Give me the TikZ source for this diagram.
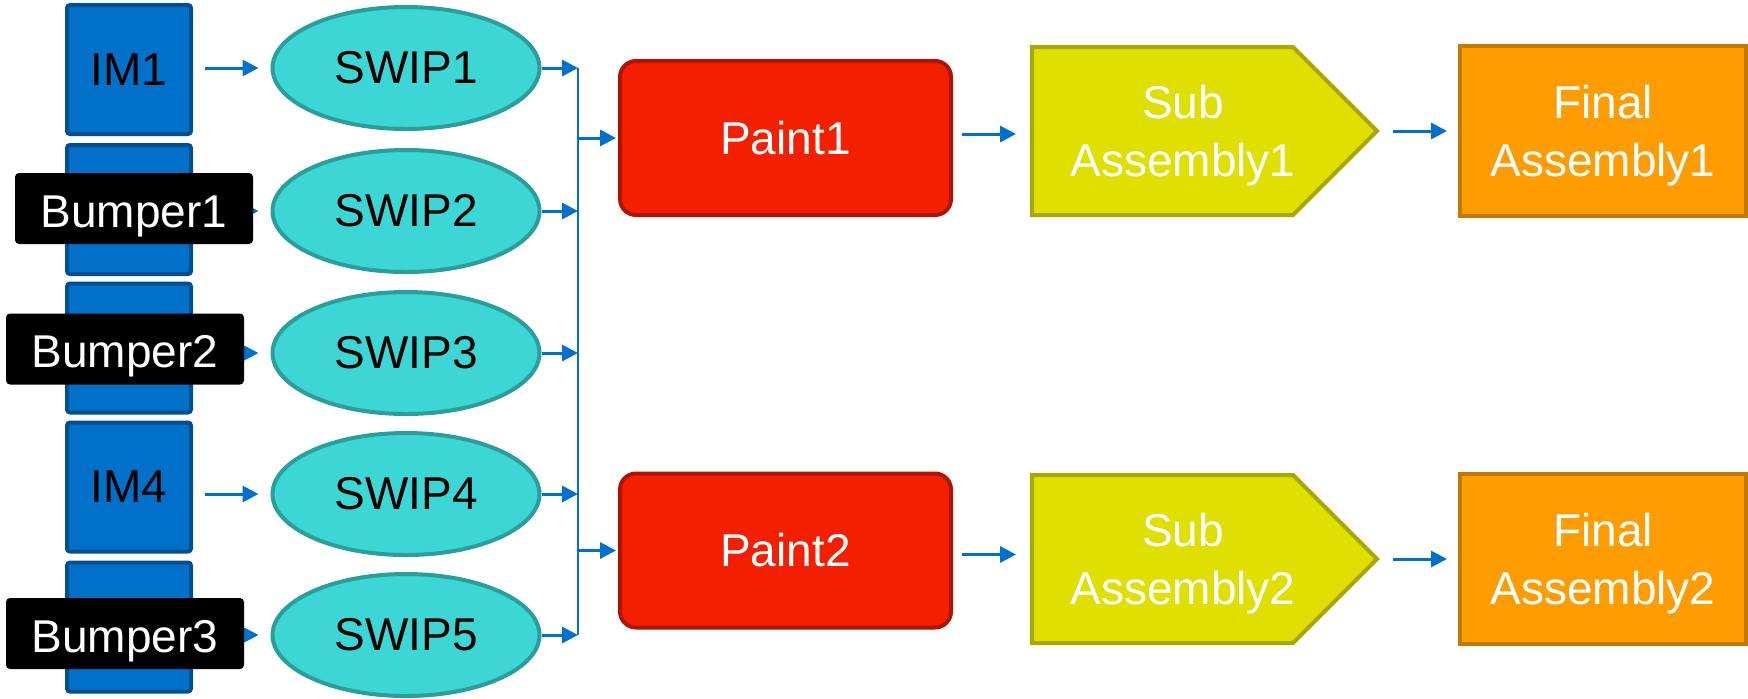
\documentclass[tikz,border=0pt]{standalone}
\usepackage{fontspec}
\setmainfont{Liberation Sans}
\usetikzlibrary{arrows.meta,calc,shapes.geometric}
\definecolor{imfill}{HTML}{0070C8}
\definecolor{imdraw}{HTML}{00508F}
\definecolor{swfill}{HTML}{3CD6D4}
\definecolor{swdraw}{HTML}{2A9E9A}
\definecolor{pfill}{HTML}{F41E00}
\definecolor{pdraw}{HTML}{B01400}
\definecolor{sfill}{HTML}{DFDF00}
\definecolor{sdraw}{HTML}{A8A800}
\definecolor{ffill}{HTML}{FF9C00}
\definecolor{fdraw}{HTML}{C47800}
\definecolor{arrblue}{HTML}{0070D0}
\begin{document}
\begin{tikzpicture}[x=0.5pt,y=-0.5pt,
  txt/.style={font=\fontsize{23}{29}\selectfont, align=center},
  imbox/.style={rectangle, rounded corners=1.5pt, fill=imfill, draw=imdraw, line width=2pt, minimum width=62pt, minimum height=64.5pt, txt, inner sep=0pt},
  bumper/.style={rectangle, rounded corners=2pt, fill=black, text=white, minimum width=119pt, minimum height=35.5pt, txt, inner sep=0pt, text height=18.5pt, text depth=0pt},
  swip/.style={ellipse, fill=swfill, draw=swdraw, line width=2pt, minimum width=133.5pt, minimum height=61pt, txt, inner sep=0pt},
  paint/.style={rectangle, rounded corners=8pt, fill=pfill, draw=pdraw, line width=2pt, minimum width=165.5pt, minimum height=77pt, txt, text=white},
  subsh/.style={fill=sfill, draw=sdraw, line width=2pt, line join=miter},
  subtxt/.style={txt, text=white, text depth=0pt},
  final/.style={rectangle, fill=ffill, draw=fdraw, line width=2pt, minimum width=143pt, minimum height=85pt, txt, text=white, text depth=0pt},
  arr/.style={draw=arrblue, line width=1.5pt, -{Triangle[length=8pt,width=8pt]}},
  bus/.style={draw=arrblue, line width=1.25pt}
]
\useasboundingbox (0,0) rectangle (1748,698);

% IM boxes
\node[imbox] (im1) at (129,69.5) {IM1};
\node[imbox] (im2) at (129,209.5) {};
\node[imbox] (im3) at (129,348) {};
\node[imbox] (im4) at (129,487) {IM4};
\node[imbox] (im5) at (129,627) {};

% SWIP ellipses
\node[swip] (swip1) at (406,68) {SWIP1};
\node[swip] (swip2) at (406,211) {SWIP2};
\node[swip] (swip3) at (406,353) {SWIP3};
\node[swip] (swip4) at (406,494) {SWIP4};
\node[swip] (swip5) at (406,635) {SWIP5};

% arrows IM -> SWIP
\foreach \i in {1,...,5}{
  \draw[arr, shorten <=6pt, shorten >=6pt] (im\i.east |- swip\i.west) -- (swip\i.west);
}

% Bumper labels (on top)
\node[bumper] (bumper1) at (134,208.5) {Bumper1};
\node[bumper] (bumper2) at (125,349) {Bumper2};
\node[bumper] (bumper3) at (125,633.5) {Bumper3};

% Paint boxes
\node[paint] (paint1) at (785.5,138) {Paint1};
\node[paint] (paint2) at (785.5,550.5) {Paint2};

% bus
\coordinate (busx) at (578,0);
\foreach \i in {1,...,5}{
  \draw[arr] (swip\i.east) -- (swip\i.east -| busx);
}
\draw[bus] (swip1.east -| busx) -- (swip5.east -| busx);
\draw[arr, shorten >=1pt] (busx |- paint1.west) -- (paint1.west);
\draw[arr, shorten >=1pt] (busx |- paint2.west) -- (paint2.west);

% Sub assemblies
\draw[subsh] (1032,47) -- (1293,47) -- (1377,131) -- (1293,215) -- (1032,215) -- cycle;
\draw[subsh] (1032,475) -- (1293,475) -- (1377,559) -- (1293,643) -- (1032,643) -- cycle;
\node[subtxt] (sub1) at (1183,131) {Sub\\Assembly1};
\node[subtxt] (sub2) at (1183,559) {Sub\\Assembly2};
\coordinate (sub1w) at (1032,131);
\coordinate (sub1e) at (1377,131);
\coordinate (sub2w) at (1032,559);
\coordinate (sub2e) at (1377,559);

% Final assemblies
\node[final] (final1) at (1603,131) {Final\\Assembly1};
\node[final] (final2) at (1603,559) {Final\\Assembly2};

% arrows paint -> sub -> final
\draw[arr, shorten <=4.5pt, shorten >=8pt] ([yshift=2pt]paint1.east) -- ([yshift=2pt]paint1.east -| sub1w);
\draw[arr, shorten <=4.5pt, shorten >=8pt] ([yshift=-2pt]paint2.east) -- ([yshift=-2pt]paint2.east -| sub2w);
\draw[arr, shorten <=8pt, shorten >=5.5pt] (sub1e) -- (sub1e -| final1.west);
\draw[arr, shorten <=8pt, shorten >=5.5pt] (sub2e) -- (sub2e -| final2.west);
\end{tikzpicture}
\end{document}
